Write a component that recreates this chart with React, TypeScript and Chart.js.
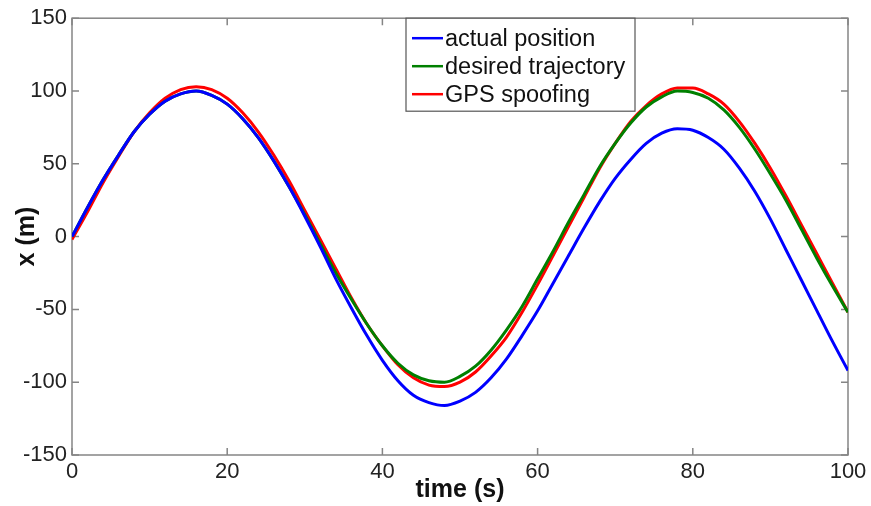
import React, { useEffect, useRef } from "react";
import { Chart, registerables } from "chart.js";

Chart.register(...registerables);

const times = [0, 2, 4, 6, 8, 10, 12, 14, 16, 18, 20, 22, 24, 26, 28, 30, 32, 34, 36, 38, 40, 42, 44, 46, 48, 50, 52, 54, 56, 58, 60, 62, 64, 66, 68, 70, 72, 74, 76, 78, 80, 82, 84, 86, 88, 90, 92, 94, 96, 98, 100];

const actualPosition = [0, 20, 39, 56, 72, 84, 93, 98, 100, 97, 91, 81, 68, 52, 34, 14, -7, -29, -49, -68, -85, -99, -109, -114, -116, -113, -107, -97, -84, -68, -51, -32, -13, 6, 24, 40, 53, 64, 71, 74, 73, 68, 60, 47, 31, 12, -9, -30, -51, -72, -92];

const desiredTrajectory = [0, 20, 39, 56, 72, 84, 93, 98, 100, 97, 91, 81, 68, 52, 34, 15, -5, -25, -43, -60, -75, -87, -95, -99, -100, -96, -89, -78, -64, -48, -29, -10, 10, 29, 48, 64, 78, 89, 96, 100, 99, 95, 87, 75, 60, 43, 25, 5, -15, -34, -52];

const gpsSpoofing = [-2, 17, 37, 55, 72, 85, 95, 101, 103, 101, 95, 85, 72, 56, 38, 18, -2, -22, -42, -60, -75, -88, -97, -102, -103, -100, -93, -82, -69, -52, -33, -13, 7, 27, 47, 64, 79, 90, 98, 102, 102, 98, 91, 79, 64, 47, 28, 8, -12, -32, -52];

const xTicks = [0, 20, 40, 60, 80, 100];
const yTicks = [-150, -100, -50, 0, 50, 100, 150];

const seriesNames = ["actual position", "desired trajectory", "GPS spoofing"];
const seriesColors = ["#0000ff", "#008000", "#ff0000"];

const FONT = "'Liberation Sans', Arial, Helvetica, sans-serif";

const framePlugin = {
  id: "frame",
  beforeDatasetsDraw(chart: any) {
    const { ctx, chartArea: a, scales } = chart;
    ctx.save();
    ctx.strokeStyle = "#858585";
    ctx.lineWidth = 1.5;
    ctx.strokeRect(a.left, a.top, a.right - a.left, a.bottom - a.top);
    const tl = 7;
    ctx.beginPath();
    for (const v of xTicks) {
      const x = scales.x.getPixelForValue(v);
      ctx.moveTo(x, a.bottom);
      ctx.lineTo(x, a.bottom - tl);
      ctx.moveTo(x, a.top);
      ctx.lineTo(x, a.top + tl);
    }
    for (const v of yTicks) {
      const y = scales.y.getPixelForValue(v);
      ctx.moveTo(a.left, y);
      ctx.lineTo(a.left + tl, y);
      ctx.moveTo(a.right, y);
      ctx.lineTo(a.right - tl, y);
    }
    ctx.stroke();
    ctx.restore();
  },
};

const legendPlugin = {
  id: "boxLegend",
  afterDraw(chart: any) {
    const { ctx, chartArea: a } = chart;
    const left = 406;
    const top = a.top;
    const w = 229;
    const h = 93;
    ctx.save();
    ctx.fillStyle = "#ffffff";
    ctx.fillRect(left, top, w, h);
    ctx.strokeStyle = "#555555";
    ctx.lineWidth = 1.2;
    ctx.strokeRect(left, top, w, h);
    ctx.font = `23.5px ${FONT}`;
    ctx.textBaseline = "middle";
    ctx.textAlign = "left";
    chart.data.datasets.forEach((ds: any, i: number) => {
      const y = top + 20 + i * 28;
      ctx.strokeStyle = ds.borderColor;
      ctx.lineWidth = 2.5;
      ctx.beginPath();
      ctx.moveTo(left + 6, y);
      ctx.lineTo(left + 37, y);
      ctx.stroke();
      ctx.fillStyle = "#111111";
      ctx.fillText(ds.label, left + 39, y + 1);
    });
    ctx.restore();
  },
};

export default function App() {
  const ref = useRef<HTMLCanvasElement | null>(null);

  useEffect(() => {
    if (!ref.current) return;
    const series = [actualPosition, desiredTrajectory, gpsSpoofing];
    const chart = new Chart(ref.current, {
      type: "line",
      data: {
        datasets: series.map((vals, i) => ({
          label: seriesNames[i],
          data: times.map((t, j) => ({ x: t, y: vals[j] })),
          borderColor: seriesColors[i],
          backgroundColor: seriesColors[i],
          borderWidth: 3,
          pointRadius: 0,
          cubicInterpolationMode: "monotone",
          fill: false,
        })),
      },
      options: {
        responsive: false,
        animation: false,
        layout: { padding: { left: 0, top: 17, right: 23, bottom: 0 } },
        plugins: {
          legend: { display: false },
          tooltip: { enabled: false },
        },
        scales: {
          x: {
            type: "linear",
            min: 0,
            max: 100,
            afterBuildTicks: (s: any) => {
              s.ticks = xTicks.map((v) => ({ value: v }));
            },
            afterFit: (s: any) => {
              s.height = 51;
            },
            grid: { display: false, drawTicks: false },
            border: { display: false },
            ticks: {
              padding: 4,
              maxRotation: 0,
              color: "#222222",
              font: { family: FONT, size: 22 },
            },
            title: {
              display: true,
              text: "time (s)",
              color: "#111111",
              font: { family: FONT, size: 25, weight: "bold" },
              padding: { top: 0, bottom: 1 },
            },
          },
          y: {
            type: "linear",
            min: -150,
            max: 150,
            afterBuildTicks: (s: any) => {
              s.ticks = yTicks.map((v) => ({ value: v }));
            },
            afterFit: (s: any) => {
              s.width = 72;
            },
            grid: { display: false, drawTicks: false },
            border: { display: false },
            ticks: {
              padding: 5,
              color: "#222222",
              font: { family: FONT, size: 22 },
            },
            title: {
              display: true,
              text: "x (m)",
              color: "#111111",
              font: { family: FONT, size: 25, weight: "bold" },
              padding: { top: 12, bottom: 0 },
            },
          },
        },
      },
      plugins: [framePlugin, legendPlugin],
    });
    return () => chart.destroy();
  }, []);

  return (
    <div style={{ position: "absolute", left: 0, top: 0, width: 871, height: 506, background: "#fff" }}>
      <canvas ref={ref} width={871} height={506} />
    </div>
  );
}
